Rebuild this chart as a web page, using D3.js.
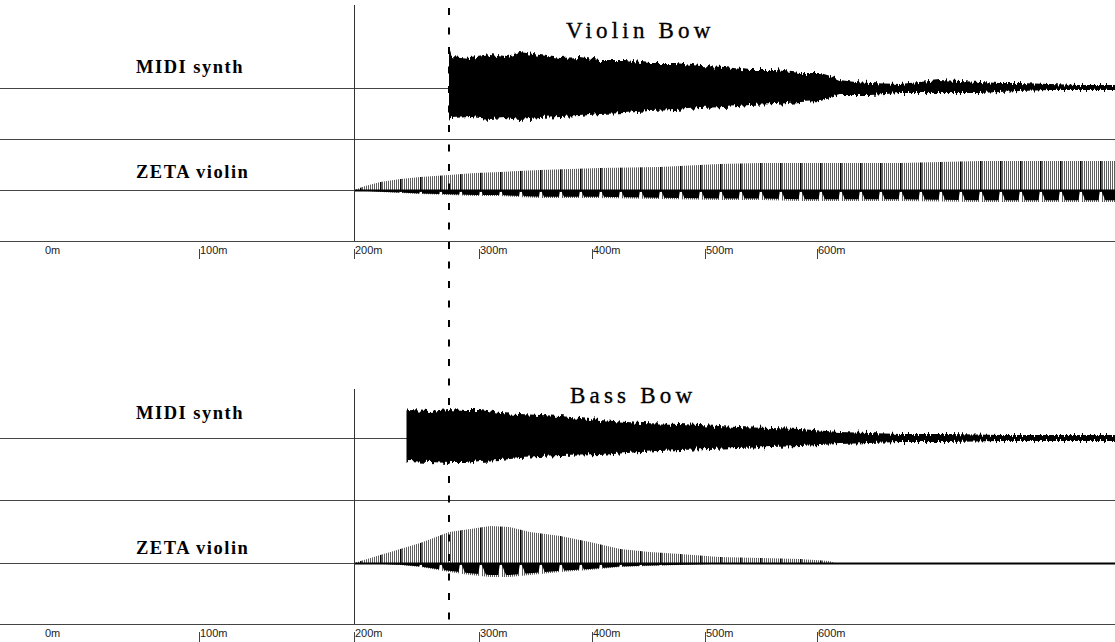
<!DOCTYPE html>
<html><head><meta charset="utf-8">
<script src="https://cdn.jsdelivr.net/npm/d3@7"></script>
<style>html,body{margin:0;padding:0;background:#fff;overflow:hidden}</style>
</head><body>
<svg id="c" width="1115" height="642"></svg>
<script>
// ---------- data (time in ms, amplitude in % of lane full scale) ----------
const tickValues = [0, 100, 200, 300, 400, 500, 600];
const tickLabels = ["0m", "100m", "200m", "300m", "400m", "500m", "600m"];
const panelTitles = ["Violin Bow", "Bass Bow"];
const laneLabels = ["MIDI synth", "ZETA violin"];
const recordStart = 200;   // ms, solid vertical line
const markerTime = 276;    // ms, dashed vertical line

const violinMidiT  = [276,278,293,310,323,336,354,372,389,407,429,451,474,496,518,540,563,585,603,612,620,634,647,674,691,709,727,745,762,780,807,833,865];
const violinMidiUp = [80,64,60,66,62,72,66,60,62,56,56,50,50,44,42,36,36,30,30,24,16,12,10,8,12,16,14,12,10,10,8,6,6];
const violinMidiLo = [68,60,58,62,60,64,60,58,56,52,50,46,44,40,38,34,32,28,26,20,14,14,14,10,10,10,10,10,8,6,4,4,4];

const violinZetaT  = [200,209,221,237,253,276,297,319,354,407,460,513,549,585,638,674,745,798,865];
const violinZetaUp = [0,8,16,22,26,30,34,36,40,44,46,52,54,54,54,54,58,58,58];
const violinZetaLo = [0,2,4,6,8,10,12,12,16,16,18,20,20,22,22,22,24,24,24];

const bassMidiT  = [242,243,261,276,289,301,319,336,354,372,407,443,478,529,585,620,674,718,762,865];
const bassMidiUp = [60,56,54,58,56,56,50,48,46,44,36,30,28,22,18,12,8,8,6,6];
const bassMidiLo = [48,46,48,50,50,46,44,40,38,36,34,28,24,20,16,12,8,8,6,6];

const bassZetaT  = [200,221,237,253,276,293,310,327,345,372,398,425,451,478,513,549,585,611,616];
const bassZetaUp = [0,16,28,40,62,68,74,72,62,54,42,28,22,18,12,10,8,4,0];
const bassZetaLo = [0,2,4,8,18,24,28,28,24,18,14,8,6,4,2,2,2,2,0];

const zip = (t, u, l) => t.map((v, i) => ({t: v, up: u[i], lo: l[i]}));

// ---------- layout ----------
const W = 1115;
const svg = d3.select("#c");
const x = d3.scaleLinear()
  .domain([0, 100, 200, 300, 400, 500, 600, 865])
  .range([44, 199, 354, 479, 592, 705, 817, 1115]);
const y = d3.scaleLinear().domain([-100, 100]).range([50, -50]);

const panels = [
  {title: panelTitles[0], tx: 566, ty: 38, vTop: 5, axisY: 241, seps: [139],
   lanes: [{label: laneLabels[0], base: 88, ly: 73, kind: "midi", data: zip(violinMidiT, violinMidiUp, violinMidiLo)},
           {label: laneLabels[1], base: 190, ly: 178, kind: "zeta", data: zip(violinZetaT, violinZetaUp, violinZetaLo)}]},
  {title: panelTitles[1], tx: 570, ty: 403, vTop: 389, axisY: 624, seps: [500],
   lanes: [{label: laneLabels[0], base: 438, ly: 419, kind: "midi", data: zip(bassMidiT, bassMidiUp, bassMidiLo)},
           {label: laneLabels[1], base: 563, ly: 554, kind: "zeta", data: zip(bassZetaT, bassZetaUp, bassZetaLo)}]}
];

// ---------- defs ----------
const defs = svg.append("defs");
const f = defs.append("filter").attr("id", "rough")
  .attr("x", "-2%").attr("y", "-40%").attr("width", "104%").attr("height", "180%")
  .attr("color-interpolation-filters", "sRGB");
f.append("feTurbulence").attr("type", "fractalNoise").attr("baseFrequency", "0.5 0.02")
  .attr("numOctaves", 2).attr("seed", 7).attr("result", "n");
f.append("feColorMatrix").attr("in", "n").attr("type", "matrix")
  .attr("values", "1 0 0 0 0  0 0 0 0 0.5  0 0 0 0 0  0 0 0 0 1").attr("result", "m");
f.append("feDisplacementMap").attr("in", "SourceGraphic").attr("in2", "m")
  .attr("scale", 9).attr("xChannelSelector", "G").attr("yChannelSelector", "R");

const P = 20;
const hatch = defs.append("pattern").attr("id", "hatch").attr("patternUnits", "userSpaceOnUse")
  .attr("x", 0).attr("y", -50).attr("width", P).attr("height", 100);
for (let i = 1; i < P / 2; i++) {
  hatch.append("rect").attr("x", i * 2).attr("y", 0).attr("width", 1).attr("height", 100).attr("fill", "#5e5e5e");
}
hatch.append("rect").attr("x", 0).attr("y", 0).attr("width", 1.6).attr("height", 52).attr("fill", "#000");

const saw = defs.append("pattern").attr("id", "saw").attr("patternUnits", "userSpaceOnUse")
  .attr("x", 0).attr("y", 0).attr("width", P).attr("height", 40);
saw.append("polygon").attr("points", `1,0 12,26 16,26 ${P},0`).attr("fill", "#000");

// ---------- draw ----------
const lineCol = "#444";
panels.forEach(p => {
  const g = svg.append("g");
  // horizontal lines
  const hs = p.lanes.map(l => l.base).concat(p.seps, [p.axisY]);
  g.selectAll("line.h").data(hs).join("line")
    .attr("x1", 0).attr("x2", W).attr("y1", d => d + 0.5).attr("y2", d => d + 0.5)
    .attr("stroke", lineCol).attr("stroke-width", 1);

  // lane labels
  p.lanes.forEach(l => {
    g.append("text").attr("x", 136).attr("y", l.ly).text(l.label)
      .attr("font-family", "Liberation Serif, serif").attr("font-weight", "bold")
      .attr("font-size", 18.5).attr("letter-spacing", 1.5).attr("fill", "#000");
  });

  // waveforms
  p.lanes.forEach(l => {
    const lg = g.append("g").attr("transform", `translate(0,${l.base})`);
    const area = d3.area().x(d => x(d.t)).y0(d => y(-d.lo)).y1(d => y(d.up));
    if (l.kind === "midi") {
      lg.append("path").datum(l.data).attr("d", area).attr("fill", "#000").attr("filter", "url(#rough)");
    } else {
      lg.append("path").datum(l.data).attr("d", area).attr("fill", "url(#hatch)");
      const inner = d3.area().x(d => x(d.t)).y0(d => y(-d.lo * 0.85)).y1(() => y(0));
      lg.append("path").datum(l.data).attr("d", inner).attr("fill", "url(#saw)");
      const t0 = l.data[0].t;
      lg.append("line").attr("x1", x(t0)).attr("x2", W).attr("y1", 0.5).attr("y2", 0.5)
        .attr("stroke", "#000").attr("stroke-width", 2);
    }
  });

  // axis ticks + labels
  const ax = g.append("g").attr("transform", `translate(0,${p.axisY})`);
  ax.selectAll("line.t").data(tickValues.filter(v => v > 0)).join("line")
    .attr("x1", d => Math.round(x(d)) + 0.5).attr("x2", d => Math.round(x(d)) + 0.5)
    .attr("y1", 8).attr("y2", 18).attr("stroke", lineCol).attr("stroke-width", 1);
  ax.selectAll("text").data(tickValues).join("text")
    .attr("x", d => x(d) + 1).attr("y", 13).text((d, i) => tickLabels[i])
    .attr("font-family", "Liberation Sans, Arial, sans-serif").attr("font-size", 11).attr("fill", "#222");

  // record start vertical line
  g.append("line").attr("x1", Math.round(x(recordStart)) + 0.5).attr("x2", Math.round(x(recordStart)) + 0.5)
    .attr("y1", p.vTop).attr("y2", p.axisY).attr("stroke", "#333").attr("stroke-width", 1);

  // title
  g.append("text").attr("x", p.tx).attr("y", p.ty).text(p.title)
    .attr("font-family", "Liberation Serif, serif").attr("font-size", 23)
    .attr("letter-spacing", 4.2).attr("fill", "#000").attr("stroke", "#000").attr("stroke-width", 0.35);
});

// dashed marker line across both panels
svg.append("line").attr("x1", x(markerTime)).attr("x2", x(markerTime))
  .attr("y1", 8).attr("y2", 624).attr("stroke", "#000").attr("stroke-width", 2)
  .attr("stroke-dasharray", "7 12.5");
</script>
</body></html>
